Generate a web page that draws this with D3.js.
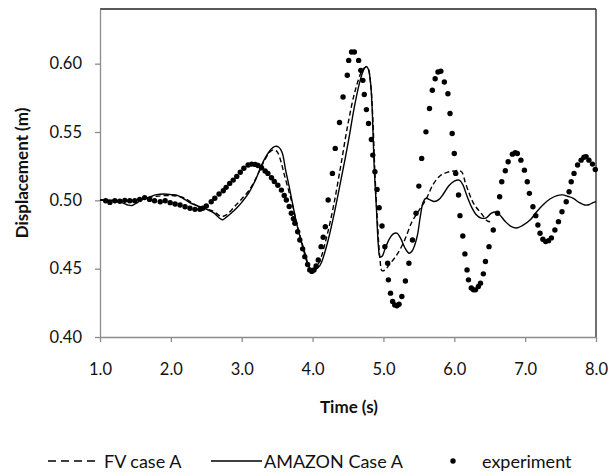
<!DOCTYPE html>
<html>
<head>
<meta charset="utf-8">
<script src="https://cdn.jsdelivr.net/npm/d3@7"></script>
<style>
  html, body { margin: 0; padding: 0; background: #fff; }
  svg { display: block; font-family: Lato, "Open Sans", sans-serif; }
</style>
</head>
<body>
<svg id="chart" width="608" height="473"></svg>
<script>
// Axis ticks
const xTicks = [1, 2, 3, 4, 5, 6, 7, 8];
const yTicks = [0.40, 0.45, 0.50, 0.55, 0.60];

// FV case A (dashed)
const fvTime = [1.00, 1.20, 1.40, 1.60, 1.80, 2.00, 2.10, 2.20, 2.30, 2.40, 2.50, 2.60, 2.70, 2.75, 2.80, 2.90, 3.00, 3.10, 3.20, 3.30, 3.40, 3.45, 3.50, 3.55, 3.60, 3.70, 3.80, 3.90, 3.95, 3.98, 4.02, 4.10, 4.20, 4.30, 4.40, 4.50, 4.60, 4.70, 4.75, 4.78, 4.82, 4.85, 4.88, 4.92, 4.95, 4.98, 5.02, 5.10, 5.20, 5.30, 5.40, 5.50, 5.60, 5.70, 5.80, 5.90, 6.00, 6.07, 6.11, 6.15, 6.20, 6.25, 6.30, 6.38, 6.47, 6.55];
const fvDisp = [0.5000, 0.5000, 0.4995, 0.5010, 0.5030, 0.5035, 0.5030, 0.5015, 0.4980, 0.4955, 0.4940, 0.4920, 0.4885, 0.4885, 0.4900, 0.4955, 0.5010, 0.5070, 0.5160, 0.5270, 0.5355, 0.5370, 0.5355, 0.5290, 0.5190, 0.5000, 0.4785, 0.4600, 0.4510, 0.4485, 0.4490, 0.4555, 0.4735, 0.4970, 0.5260, 0.5560, 0.5800, 0.5950, 0.5975, 0.5970, 0.5850, 0.5600, 0.5200, 0.4800, 0.4580, 0.4485, 0.4490, 0.4540, 0.4610, 0.4710, 0.4840, 0.4925, 0.5005, 0.5115, 0.5180, 0.5205, 0.5215, 0.5218, 0.5205, 0.5140, 0.5065, 0.5000, 0.4955, 0.4905, 0.4848, 0.4842];

// AMAZON Case A (solid)
const amTime = [1.00, 1.10, 1.20, 1.30, 1.40, 1.45, 1.50, 1.60, 1.70, 1.80, 1.90, 2.00, 2.10, 2.20, 2.30, 2.40, 2.50, 2.60, 2.70, 2.73, 2.78, 2.85, 2.95, 3.00, 3.10, 3.20, 3.30, 3.40, 3.47, 3.52, 3.57, 3.62, 3.67, 3.72, 3.78, 3.86, 3.93, 3.98, 4.02, 4.10, 4.20, 4.30, 4.40, 4.50, 4.59, 4.66, 4.72, 4.76, 4.79, 4.82, 4.84, 4.87, 4.90, 4.93, 4.95, 4.98, 5.02, 5.08, 5.14, 5.19, 5.24, 5.30, 5.36, 5.40, 5.44, 5.48, 5.52, 5.56, 5.60, 5.65, 5.72, 5.78, 5.85, 5.92, 6.00, 6.07, 6.12, 6.18, 6.24, 6.31, 6.38, 6.45, 6.52, 6.58, 6.64, 6.72, 6.80, 6.88, 6.96, 7.07, 7.16, 7.25, 7.35, 7.45, 7.53, 7.60, 7.68, 7.76, 7.84, 7.90, 7.96, 8.00];
const amDisp = [0.5005, 0.5000, 0.4995, 0.4985, 0.4965, 0.4962, 0.4975, 0.5005, 0.5025, 0.5042, 0.5046, 0.5042, 0.5035, 0.5005, 0.4975, 0.4955, 0.4935, 0.4910, 0.4865, 0.4858, 0.4875, 0.4905, 0.4955, 0.4985, 0.5055, 0.5155, 0.5280, 0.5365, 0.5395, 0.5390, 0.5350, 0.5220, 0.5100, 0.4970, 0.4820, 0.4660, 0.4535, 0.4491, 0.4488, 0.4520, 0.4670, 0.4890, 0.5148, 0.5416, 0.5683, 0.5854, 0.5955, 0.5980, 0.5955, 0.5850, 0.5683, 0.5245, 0.4953, 0.4660, 0.4588, 0.4590, 0.4640, 0.4715, 0.4755, 0.4760, 0.4725, 0.4655, 0.4613, 0.4625, 0.4670, 0.4745, 0.4880, 0.4985, 0.5015, 0.5005, 0.4992, 0.5005, 0.5050, 0.5105, 0.5140, 0.5148, 0.5115, 0.5030, 0.4955, 0.4895, 0.4870, 0.4872, 0.4905, 0.4915, 0.4895, 0.4845, 0.4810, 0.4798, 0.4815, 0.4856, 0.4915, 0.4966, 0.5010, 0.5035, 0.5040, 0.5030, 0.5015, 0.4985, 0.4966, 0.4968, 0.4983, 0.4990];

// experiment (dots)
const expTime = [1.08, 1.14, 1.21, 1.28, 1.35, 1.42, 1.49, 1.56, 1.63, 1.70, 1.77, 1.85, 1.92, 1.99, 2.06, 2.13, 2.20, 2.27, 2.34, 2.41, 2.45, 2.50, 2.57, 2.62, 2.68, 2.74, 2.78, 2.83, 2.88, 2.93, 2.98, 3.03, 3.09, 3.14, 3.19, 3.23, 3.28, 3.33, 3.37, 3.42, 3.46, 3.51, 3.56, 3.60, 3.63, 3.67, 3.70, 3.73, 3.75, 3.79, 3.82, 3.86, 3.89, 3.93, 3.96, 3.99, 4.02, 4.05, 4.08, 4.12, 4.15, 4.18, 4.22, 4.28, 4.32, 4.38, 4.43, 4.49, 4.51, 4.55, 4.59, 4.65, 4.68, 4.71, 4.73, 4.76, 4.79, 4.83, 4.85, 4.88, 4.91, 4.94, 4.98, 5.02, 5.06, 5.07, 5.10, 5.13, 5.16, 5.19, 5.22, 5.26, 5.31, 5.36, 5.41, 5.46, 5.50, 5.54, 5.60, 5.65, 5.69, 5.73, 5.77, 5.81, 5.86, 5.91, 5.94, 5.97, 6.00, 6.02, 6.06, 6.08, 6.12, 6.15, 6.18, 6.20, 6.24, 6.27, 6.30, 6.34, 6.37, 6.41, 6.44, 6.49, 6.55, 6.61, 6.64, 6.67, 6.72, 6.76, 6.82, 6.86, 6.89, 6.94, 6.99, 7.03, 7.06, 7.11, 7.15, 7.18, 7.21, 7.25, 7.29, 7.33, 7.37, 7.42, 7.47, 7.52, 7.58, 7.62, 7.65, 7.69, 7.74, 7.79, 7.83, 7.86, 7.90, 7.95, 7.99];
const expDisp = [0.4997, 0.4985, 0.4997, 0.4993, 0.5000, 0.4997, 0.4997, 0.5007, 0.5020, 0.5007, 0.4997, 0.4990, 0.4997, 0.4983, 0.4973, 0.4966, 0.4953, 0.4942, 0.4934, 0.4934, 0.4942, 0.4958, 0.4990, 0.5015, 0.5046, 0.5070, 0.5095, 0.5124, 0.5148, 0.5175, 0.5205, 0.5235, 0.5258, 0.5265, 0.5263, 0.5255, 0.5238, 0.5215, 0.5197, 0.5165, 0.5138, 0.5110, 0.5075, 0.5035, 0.5002, 0.4955, 0.4905, 0.4865, 0.4832, 0.4770, 0.4710, 0.4645, 0.4588, 0.4530, 0.4491, 0.4480, 0.4490, 0.4520, 0.4564, 0.4661, 0.4730, 0.4807, 0.5002, 0.5197, 0.5380, 0.5570, 0.5756, 0.5915, 0.6024, 0.6085, 0.6085, 0.6024, 0.5951, 0.5878, 0.5774, 0.5664, 0.5562, 0.5445, 0.5331, 0.5209, 0.5080, 0.4946, 0.4812, 0.4661, 0.4540, 0.4418, 0.4321, 0.4260, 0.4235, 0.4228, 0.4240, 0.4296, 0.4410, 0.4540, 0.4710, 0.4905, 0.5104, 0.5307, 0.5501, 0.5672, 0.5805, 0.5890, 0.5939, 0.5945, 0.5866, 0.5780, 0.5635, 0.5489, 0.5343, 0.5197, 0.5039, 0.4888, 0.4739, 0.4608, 0.4491, 0.4418, 0.4358, 0.4345, 0.4345, 0.4370, 0.4394, 0.4462, 0.4552, 0.4661, 0.4783, 0.4905, 0.5026, 0.5136, 0.5216, 0.5282, 0.5338, 0.5348, 0.5343, 0.5294, 0.5221, 0.5136, 0.5051, 0.4953, 0.4888, 0.4820, 0.4759, 0.4715, 0.4698, 0.4705, 0.4725, 0.4783, 0.4844, 0.4917, 0.4990, 0.5063, 0.5136, 0.5197, 0.5258, 0.5294, 0.5315, 0.5320, 0.5294, 0.5265, 0.5226];

const seriesNames = ["FV case A", "AMAZON Case A", "experiment"];

const svg = d3.select("#chart");
const margin = { top: 9, right: 12, bottom: 136, left: 100 };
const W = 608, H = 473;
const iw = W - margin.left - margin.right;
const ih = H - margin.top - margin.bottom;

const x = d3.scaleLinear().domain([1, 8]).range([0, iw]);
const y = d3.scaleLinear().domain([0.40, 0.64]).range([ih, 0]);

const g = svg.append("g").attr("transform", `translate(${margin.left},${margin.top})`);

// plot-area frame: dark on top and right
g.append("line").attr("x1", 0).attr("x2", iw).attr("y1", 0).attr("y2", 0)
  .attr("stroke", "#222").attr("stroke-width", 1.3);
g.append("line").attr("x1", iw).attr("x2", iw).attr("y1", 0).attr("y2", ih)
  .attr("stroke", "#222").attr("stroke-width", 1.3);

const axisColor = "#8c8c8c";
const tickFont = 16.5;
const legendFont = 18;
const titleFont = 17;

// x axis
const xAxis = g.append("g").attr("transform", `translate(0,${ih})`)
  .call(d3.axisBottom(x).tickValues(xTicks).tickFormat(d3.format(".1f")).tickSizeInner(5).tickSizeOuter(0).tickPadding(21));
xAxis.select(".domain").attr("stroke", axisColor).attr("stroke-width", 1.3);
xAxis.selectAll(".tick line").attr("stroke", axisColor).attr("stroke-width", 1.3);
xAxis.selectAll(".tick text").attr("fill", "#111").style("font-size", tickFont + "px").style("font-family", "Lato, sans-serif");

// y axis
const yAxis = g.append("g")
  .call(d3.axisLeft(y).tickValues(yTicks).tickFormat(d3.format(".2f")).tickSizeInner(5).tickSizeOuter(0).tickPadding(13));
yAxis.select(".domain").attr("stroke", axisColor).attr("stroke-width", 1.3);
yAxis.selectAll(".tick line").attr("stroke", axisColor).attr("stroke-width", 1.3);
yAxis.selectAll(".tick text").attr("fill", "#111").style("font-size", tickFont + "px").style("font-family", "Lato, sans-serif");

// axis titles
svg.append("text")
  .attr("x", 349).attr("y", 413)
  .attr("text-anchor", "middle")
  .style("font-size", titleFont + "px").style("font-weight", "bold").attr("fill", "#111")
  .text("Time (s)");
svg.append("text")
  .attr("transform", `translate(28,${margin.top + ih / 2}) rotate(-90)`)
  .attr("text-anchor", "middle")
  .style("font-size", titleFont + "px").style("font-weight", "bold").attr("fill", "#111")
  .text("Displacement (m)");

// series
const line = d3.line()
  .x(d => x(d[0])).y(d => y(d[1]))
  .curve(d3.curveCatmullRom.alpha(0.5));

const fvData = fvTime.map((t, i) => [t, fvDisp[i]]);
const amData = amTime.map((t, i) => [t, amDisp[i]]);
const expData = expTime.map((t, i) => [t, expDisp[i]]);

g.append("path").datum(amData)
  .attr("d", line).attr("fill", "none")
  .attr("stroke", "#000").attr("stroke-width", 1.4);

g.append("path").datum(fvData)
  .attr("d", line).attr("fill", "none")
  .attr("stroke", "#000").attr("stroke-width", 1.4)
  .attr("stroke-dasharray", "5,3");

g.selectAll("circle.exp").data(expData).enter()
  .append("circle").attr("class", "exp")
  .attr("cx", d => x(d[0])).attr("cy", d => y(d[1]))
  .attr("r", 2.7).attr("fill", "#000");

// legend
const leg = svg.append("g").attr("transform", "translate(0,461)");
leg.append("line").attr("x1", 48).attr("x2", 95).attr("y1", 0).attr("y2", 0)
  .attr("stroke", "#000").attr("stroke-width", 1.4).attr("stroke-dasharray", "8,5");
leg.append("text").attr("x", 104).attr("y", 6.5).style("font-size", legendFont + "px").attr("fill", "#111").text(seriesNames[0]);
leg.append("line").attr("x1", 211).attr("x2", 262).attr("y1", 0).attr("y2", 0)
  .attr("stroke", "#000").attr("stroke-width", 1.4);
leg.append("text").attr("x", 264).attr("y", 6.5).style("font-size", legendFont + "px").attr("fill", "#111").text(seriesNames[1]);
leg.append("circle").attr("cx", 453).attr("cy", 0).attr("r", 2.7).attr("fill", "#000");
leg.append("text").attr("x", 482).attr("y", 6.5).style("font-size", legendFont + "px").attr("fill", "#111").text(seriesNames[2]);
</script>
</body>
</html>
